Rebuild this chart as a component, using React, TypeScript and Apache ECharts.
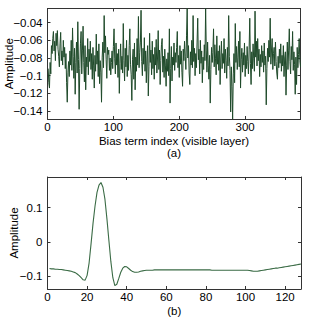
import React, { useEffect, useRef } from "react";
import * as echarts from "echarts";

// Top panel: bias terms of the visible layer (index 1..384)
const visibleBias: number[] = [
  -0.092,-0.108,-0.114,-0.085,-0.098,-0.066,-0.075,-0.058,-0.050,-0.072,-0.061,-0.083,-0.052,-0.066,-0.049,-0.070,
  -0.078,-0.090,-0.064,-0.051,-0.083,-0.072,-0.088,-0.060,-0.079,-0.068,-0.092,-0.075,-0.108,-0.130,-0.096,-0.084,
  -0.101,-0.072,-0.088,-0.060,-0.094,-0.046,-0.078,-0.103,-0.069,-0.121,-0.085,-0.062,-0.097,-0.039,-0.082,-0.138,
  -0.092,-0.064,-0.050,-0.098,-0.072,-0.044,-0.085,-0.107,-0.066,-0.116,-0.079,-0.090,-0.058,-0.099,-0.070,-0.084,
  -0.061,-0.093,-0.075,-0.104,-0.068,-0.089,-0.114,-0.077,-0.095,-0.053,-0.087,-0.072,-0.101,-0.064,-0.109,-0.083,
  -0.096,-0.130,-0.079,-0.062,-0.091,-0.032,-0.074,-0.055,-0.082,-0.103,-0.068,-0.076,-0.071,-0.094,-0.080,-0.099,
  -0.085,-0.072,-0.092,-0.067,-0.047,-0.081,-0.098,-0.063,-0.088,-0.075,-0.102,-0.070,-0.120,-0.086,-0.064,-0.093,
  -0.078,-0.097,-0.041,-0.083,-0.106,-0.069,-0.090,-0.060,-0.101,-0.077,-0.094,-0.066,-0.047,-0.087,-0.099,-0.128,
  -0.082,-0.070,-0.104,-0.063,-0.116,-0.079,-0.095,-0.058,-0.088,-0.033,-0.091,-0.074,-0.062,-0.026,-0.084,-0.100,
  -0.069,-0.087,-0.057,-0.095,-0.072,-0.108,-0.080,-0.066,-0.123,-0.090,-0.052,-0.085,-0.071,-0.099,-0.061,-0.092,
  -0.076,-0.104,-0.068,-0.088,-0.059,-0.097,-0.080,-0.049,-0.093,-0.071,-0.110,-0.083,-0.065,-0.058,-0.096,-0.078,
  -0.102,-0.070,-0.089,-0.112,-0.081,-0.095,-0.074,-0.100,-0.047,-0.131,-0.092,-0.067,-0.106,-0.079,-0.088,-0.063,
  -0.094,-0.074,-0.085,-0.068,-0.050,-0.091,-0.077,-0.102,-0.066,-0.087,-0.072,-0.096,-0.112,-0.070,-0.083,-0.061,
  -0.078,-0.093,-0.055,-0.024,-0.080,-0.066,-0.097,-0.110,-0.073,-0.088,-0.060,-0.091,-0.032,-0.084,-0.069,-0.100,
  -0.075,-0.091,-0.063,-0.035,-0.082,-0.070,-0.098,-0.060,-0.086,-0.072,-0.108,-0.079,-0.093,-0.065,-0.083,-0.024,
  -0.071,-0.096,-0.062,-0.088,-0.104,-0.077,-0.131,-0.093,-0.068,-0.085,-0.074,-0.047,-0.090,-0.065,-0.081,-0.099,
  -0.055,-0.087,-0.072,-0.094,-0.066,-0.110,-0.080,-0.061,-0.092,-0.075,-0.086,-0.058,-0.097,-0.070,-0.083,-0.103,
  -0.068,-0.089,-0.032,-0.078,-0.094,-0.141,-0.090,-0.112,-0.149,-0.098,-0.075,-0.108,-0.041,-0.085,-0.067,-0.093,
  -0.079,-0.061,-0.090,-0.050,-0.114,-0.082,-0.069,-0.096,-0.074,-0.088,-0.063,-0.101,-0.077,-0.092,-0.067,-0.084,
  -0.098,-0.070,-0.035,-0.086,-0.110,-0.073,-0.092,-0.064,-0.081,-0.095,-0.027,-0.079,-0.061,-0.089,-0.058,-0.083,
  -0.070,-0.101,-0.076,-0.090,-0.066,-0.085,-0.072,-0.096,-0.063,-0.088,-0.078,-0.133,-0.092,-0.069,-0.084,-0.060,
  -0.079,-0.035,-0.087,-0.071,-0.058,-0.093,-0.075,-0.068,-0.089,-0.062,-0.084,-0.097,-0.104,-0.078,-0.091,-0.070,
  -0.086,-0.064,-0.095,-0.077,-0.089,-0.066,-0.101,-0.080,-0.073,-0.122,-0.088,-0.062,-0.093,-0.071,-0.047,-0.084,
  -0.098,-0.067,-0.082,-0.050,-0.094,-0.073,-0.087,-0.121,-0.079,-0.110,-0.068,-0.091,-0.076,-0.058,-0.083,-0.090,
];

// Bottom panel: smooth filter (index 1..128)
const filterValues: number[] = [
  -0.078,-0.079,-0.079,-0.080,-0.080,-0.081,-0.081,-0.082,-0.083,-0.084,
  -0.085,-0.086,-0.088,-0.090,-0.094,-0.099,-0.105,-0.111,-0.112,-0.098,
  -0.062,-0.005,0.055,0.105,0.145,0.166,0.174,0.160,0.125,0.068,
  0.004,-0.058,-0.105,-0.128,-0.124,-0.107,-0.089,-0.077,-0.072,-0.073,
  -0.078,-0.083,-0.087,-0.089,-0.089,-0.088,-0.086,-0.085,-0.084,-0.083,
  -0.083,-0.083,-0.083,-0.082,-0.082,-0.082,-0.082,-0.082,-0.082,-0.082,
  -0.082,-0.082,-0.082,-0.082,-0.082,-0.082,-0.082,-0.082,-0.082,-0.082,
  -0.082,-0.082,-0.082,-0.082,-0.082,-0.082,-0.082,-0.082,-0.082,-0.082,
  -0.082,-0.082,-0.083,-0.083,-0.083,-0.083,-0.083,-0.083,-0.083,-0.083,
  -0.083,-0.083,-0.083,-0.083,-0.083,-0.083,-0.083,-0.083,-0.083,-0.083,
  -0.083,-0.084,-0.085,-0.086,-0.086,-0.086,-0.085,-0.084,-0.083,-0.082,
  -0.081,-0.080,-0.079,-0.078,-0.077,-0.077,-0.076,-0.075,-0.074,-0.073,
  -0.072,-0.071,-0.070,-0.069,-0.068,-0.067,-0.066,-0.065,
];

const topXLabel = "Bias term index (visible layer)";
const topCaption = "(a)";
const bottomCaption = "(b)";
const yName = "Amplitude";

const topRange = { xMin: 0, xMax: 384, xInterval: 100, yMin: -0.149, yMax: -0.024, ySplit: 6 };
const bottomRange = { xMin: 0, xMax: 128, xInterval: 20, yMin: -0.138, yMax: 0.19, ySplit: 3 };

const FONT = "'Liberation Sans', Arial, Helvetica, sans-serif";
const AXIS_COLOR = "#333";

const fmt = (v: number) => String(parseFloat(v.toFixed(3))).replace("-", "\u2212");

export default function App() {
  const ref = useRef<HTMLDivElement>(null);

  useEffect(() => {
    document.body.style.margin = "0";
    if (!ref.current) return;
    const chart = echarts.init(ref.current, undefined, { renderer: "svg" });

    const labelStyle = { color: "#000", fontFamily: FONT, fontSize: 11.5, lineHeight: 12 };
    const line = { show: true, onZero: false, lineStyle: { color: AXIS_COLOR, width: 1 } };
    const tick = { show: true, inside: true, length: 3, lineStyle: { color: AXIS_COLOR, width: 1 } };

    const mkX = (gi: number, r: any, pos: "bottom" | "top", name?: string, gap?: number) => ({
      type: "value",
      gridIndex: gi,
      position: pos,
      min: r.xMin,
      max: r.xMax,
      interval: r.xInterval,
      axisLine: line,
      axisTick: tick,
      splitLine: { show: false },
      axisLabel: pos === "bottom"
        ? { ...labelStyle, margin: 2, showMaxLabel: false, formatter: fmt }
        : { show: false },
      name: name,
      nameLocation: "middle",
      nameGap: gap,
      nameMoveOverlap: false,
      nameTextStyle: { ...labelStyle, lineHeight: 11.6, verticalAlign: "top" },
    });

    const mkY = (gi: number, r: any, pos: "left" | "right", nameGap?: number) => ({
      type: "value",
      gridIndex: gi,
      position: pos,
      min: r.yMin,
      max: r.yMax,
      splitNumber: r.ySplit,
      axisLine: line,
      axisTick: tick,
      splitLine: { show: false },
      axisLabel: pos === "left"
        ? { ...labelStyle, margin: 5, showMinLabel: false, showMaxLabel: false, formatter: fmt }
        : { show: false },
      name: pos === "left" ? yName : undefined,
      nameLocation: "middle",
      nameRotate: 90,
      nameGap: nameGap,
      nameMoveOverlap: false,
      nameTextStyle: { ...labelStyle },
    });

    chart.setOption({
      animation: false,
      backgroundColor: "#fff",
      grid: [
        { left: 47.5, top: 8.5, width: 253, height: 110.5, show: false, containLabel: false, outerBoundsMode: "none" },
        { left: 47.5, top: 177, width: 253.5, height: 112, show: false, containLabel: false, outerBoundsMode: "none" },
      ],
      xAxis: [
        mkX(0, topRange, "bottom", topXLabel + "\n" + topCaption, 16.5),
        mkX(0, topRange, "top"),
        mkX(1, bottomRange, "bottom", bottomCaption, 16),
        mkX(1, bottomRange, "top"),
      ],
      yAxis: [
        mkY(0, topRange, "left", 33),
        mkY(0, topRange, "right"),
        mkY(1, bottomRange, "left", 28),
        mkY(1, bottomRange, "right"),
      ],
      series: [
        {
          type: "line",
          xAxisIndex: 0,
          yAxisIndex: 0,
          data: visibleBias.map((v, i) => [i + 1, v]),
          showSymbol: false,
          lineStyle: { color: "#1f4a2a", width: 1 },
        },
        {
          type: "line",
          xAxisIndex: 2,
          yAxisIndex: 2,
          data: filterValues.map((v, i) => [i + 1, v]),
          showSymbol: false,
          lineStyle: { color: "#3a6b45", width: 1.1 },
        },
      ],
    });

    return () => chart.dispose();
  }, []);

  return <div ref={ref} style={{ width: 332, height: 320 }} />;
}
